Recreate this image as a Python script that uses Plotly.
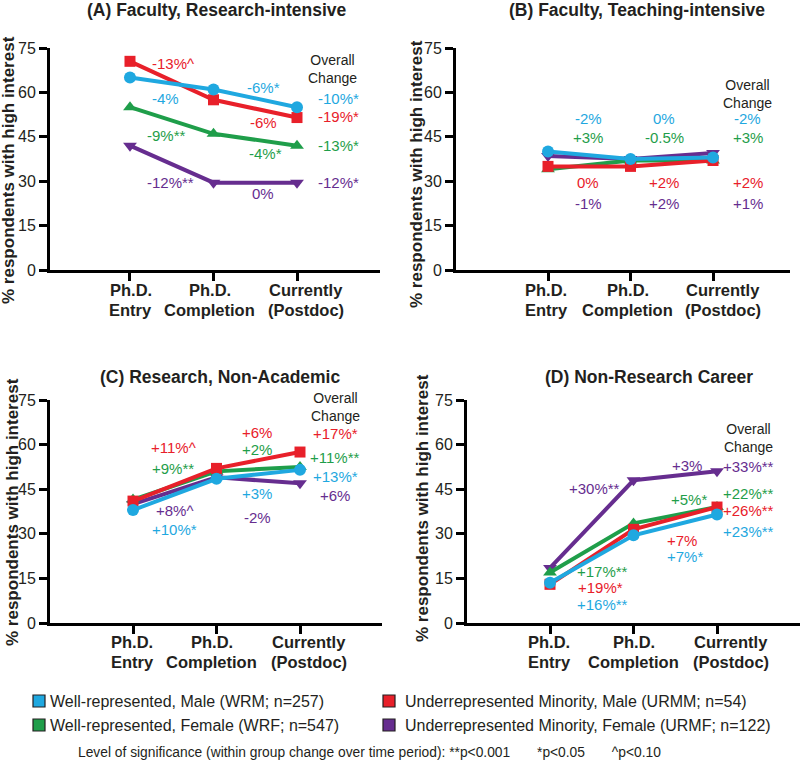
import plotly.graph_objects as go

W, H = 800, 760
FONT = "Liberation Sans, Arial, sans-serif"
INK = "#231f20"

stage_line1 = ["Ph.D.", "Ph.D.", "Currently"]
stage_line2 = ["Entry", "Completion", "(Postdoc)"]
groups = ["WRM", "URMM", "WRF", "URMF"]
group_labels = {
    "WRM": "Well-represented, Male (WRM; n=257)",
    "URMM": "Underrepresented Minority, Male (URMM; n=54)",
    "WRF": "Well-represented, Female (WRF; n=547)",
    "URMF": "Underrepresented Minority, Female (URMF; n=122)",
}
colors = {"WRM": "#1fa8e0", "URMM": "#e8202a", "WRF": "#1f9e4a", "URMF": "#662d8f"}
symbols = {"WRM": "circle", "URMM": "square", "WRF": "triangle-up", "URMF": "triangle-down"}
draw_order = ["URMF", "WRF", "URMM", "WRM"]

panel_titles = ["(A) Faculty, Research-intensive", "(B) Faculty, Teaching-intensive",
                "(C) Research, Non-Academic", "(D) Non-Research Career"]

# % respondents with high interest, per panel, per group (Entry, Completion, Postdoc)
A_WRM = [65, 61, 55]
A_URMM = [70.5, 57.5, 51.5]
A_WRF = [55, 46, 42]
A_URMF = [42, 29.5, 29.5]

B_WRM = [40, 37.5, 38]
B_URMM = [35, 35, 37]
B_WRF = [34, 37, 37]
B_URMF = [38.5, 37.5, 39.5]

C_WRM = [38, 48.5, 51.5]
C_URMM = [41, 52, 57.5]
C_WRF = [41.5, 51, 52.5]
C_URMF = [40, 49, 47]

D_WRM = [13.5, 29.5, 36.5]
D_URMM = [13, 31.5, 39]
D_WRF = [17, 33.5, 39]
D_URMF = [18.5, 48, 51]

panel_data = [
    {"WRM": A_WRM, "URMM": A_URMM, "WRF": A_WRF, "URMF": A_URMF},
    {"WRM": B_WRM, "URMM": B_URMM, "WRF": B_WRF, "URMF": B_URMF},
    {"WRM": C_WRM, "URMM": C_URMM, "WRF": C_WRF, "URMF": C_URMF},
    {"WRM": D_WRM, "URMM": D_URMM, "WRF": D_WRF, "URMF": D_URMF},
]

# change labels: (group, text, x in stage units, y in % units)
A_labels = [
    ("URMM", "-13%^", 0.52, 69.6), ("WRM", "-4%", 0.43, 57.8), ("WRF", "-9%**", 0.44, 45.3),
    ("URMF", "-12%**", 0.49, 29.4),
    ("WRM", "-6%*", 1.60, 61.5), ("URMM", "-6%", 1.60, 49.7), ("WRF", "-4%*", 1.62, 39.2),
    ("URMF", "0%", 1.59, 26.0),
    ("WRM", "-10%*", 2.50, 58.1), ("URMM", "-19%*", 2.50, 51.7), ("WRF", "-13%*", 2.50, 41.9),
    ("URMF", "-12%*", 2.50, 29.4),
]
B_labels = [
    ("WRM", "-2%", 0.485, 51.3), ("WRF", "+3%", 0.485, 44.6), ("URMM", "0%", 0.485, 29.7),
    ("URMF", "-1%", 0.485, 22.6),
    ("WRM", "0%", 1.41, 51.3), ("WRF", "-0.5%", 1.41, 44.6), ("URMM", "+2%", 1.41, 29.7),
    ("URMF", "+2%", 1.41, 22.6),
    ("WRM", "-2%", 2.42, 51.3), ("WRF", "+3%", 2.42, 44.6), ("URMM", "+2%", 2.42, 29.7),
    ("URMF", "+1%", 2.42, 22.6),
]
C_labels = [
    ("URMM", "+11%^", 0.48, 58.9), ("WRF", "+9%**", 0.48, 52.1), ("URMF", "+8%^", 0.50, 38.0),
    ("WRM", "+10%*", 0.50, 31.3),
    ("URMM", "+6%", 1.485, 64.2), ("WRF", "+2%", 1.485, 58.5), ("WRM", "+3%", 1.485, 43.4),
    ("URMF", "-2%", 1.485, 35.6),
    ("URMM", "+17%*", 2.42, 63.9), ("WRF", "+11%**", 2.42, 55.8), ("WRM", "+13%*", 2.42, 49.4),
    ("URMF", "+6%", 2.42, 43.0),
]
D_labels = [
    ("URMF", "+30%**", 0.53, 45.1), ("WRF", "+17%**", 0.63, 17.2), ("URMM", "+19%*", 0.60, 11.8),
    ("WRM", "+16%**", 0.63, 6.1),
    ("URMF", "+3%", 1.64, 53.1), ("WRF", "+5%*", 1.66, 41.7), ("URMM", "+7%", 1.58, 27.9),
    ("WRM", "+7%*", 1.62, 22.2),
    ("URMF", "+33%**", 2.38, 52.8), ("WRF", "+22%**", 2.38, 43.7), ("URMM", "+26%**", 2.38, 37.7),
    ("WRM", "+23%**", 2.38, 30.9),
]
panel_labels = [A_labels, B_labels, C_labels, D_labels]
overall_pos = [(2.43, 67.8), (2.42, 59.3), (2.42, 72.8), (2.38, 62.2)]

# layout geometry in pixels: (x_left, x_right, y_top(75), y_bottom(0), x range)
geom = [
    (50, 380, 48, 270, (-0.958, 2.994)),
    (456, 790, 48, 270, (-1.115, 2.933)),
    (50, 382, 400, 623, (-0.994, 2.982)),
    (467, 800, 400, 623, (-0.994, 2.994)),
]
title_pos = [(217, 10), (637, 10), (220, 377), (649, 377)]
ytitle_pos = [(8, 170), (417, 174), (12, 512), (422, 508)]
xlabel_rows = [(290, 310), (290, 310), (642, 662), (642, 662)]
xlabel_shift = [(1, -4, 9), (-2, -3, 10), (-1, -5, 9), (-1, 0, 14)]


def px(x):
    return x / W


def py(y):
    return 1 - y / H


fig = go.Figure()
annotations = []
shapes = []

for i in range(4):
    sfx = "" if i == 0 else str(i + 1)
    xa, ya = "x" + sfx, "y" + sfx
    for g in draw_order:
        fig.add_trace(go.Scatter(
            x=[0, 1, 2], y=panel_data[i][g], mode="lines+markers",
            line=dict(color=colors[g], width=4),
            marker=dict(symbol=symbols[g], size=12 if symbols[g] != "square" else 11,
                        color=colors[g], line=dict(width=0)),
            name=group_labels[g], showlegend=False, xaxis=xa, yaxis=ya,
            cliponaxis=False, hoverinfo="skip"))
    x0, x1, yt, yb, xr = geom[i]
    axis_common = dict(showgrid=False, zeroline=False, showline=True, linecolor="black",
                       linewidth=3, ticks="outside", tickwidth=2.5, ticklen=8,
                       tickcolor="black", automargin=False, tickangle=0, fixedrange=True)
    fig.layout["xaxis" + sfx] = dict(
        domain=[px(x0), px(x1)], range=list(xr), anchor=ya,
        tickmode="array", tickvals=[0, 1, 2], showticklabels=False, **axis_common)
    fig.layout["yaxis" + sfx] = dict(
        domain=[py(yb), py(yt)], range=[0, 75], anchor=xa,
        tickmode="array", tickvals=[0, 15, 30, 45, 60, 75],
        tickfont=dict(family=FONT, size=16, color=INK), **axis_common)

    # category labels (two bold lines under each tick)
    r1, r2 = xlabel_rows[i]
    for k in range(3):
        for txt, ry in ((stage_line1[k], r1), (stage_line2[k], r2)):
            annotations.append(dict(text="<b>" + txt + "</b>", x=k, y=py(ry),
                                    xref=xa, yref="paper", showarrow=False,
                                    xanchor="center", yanchor="middle",
                                    xshift=xlabel_shift[i][k],
                                    font=dict(family=FONT, size=16.5, color=INK)))

    tx, ty = title_pos[i]
    annotations.append(dict(text="<b>" + panel_titles[i] + "</b>", x=px(tx), y=py(ty),
                            xref="paper", yref="paper", showarrow=False,
                            xanchor="center", yanchor="middle",
                            font=dict(family=FONT, size=17.5, color=INK)))
    yx, yy = ytitle_pos[i]
    annotations.append(dict(text="<b>% respondents with high interest</b>", x=px(yx), y=py(yy),
                            xref="paper", yref="paper", showarrow=False, textangle=-90,
                            xanchor="center", yanchor="middle",
                            font=dict(family=FONT, size=17, color=INK)))
    ox, oy = overall_pos[i]
    annotations.append(dict(text="Overall<br>Change", x=ox, y=oy, xref=xa, yref=ya,
                            showarrow=False, xanchor="center", yanchor="middle",
                            font=dict(family=FONT, size=14, color=INK)))
    for g, t, lx, ly in panel_labels[i]:
        annotations.append(dict(text=t, x=lx, y=ly, xref=xa, yref=ya, showarrow=False,
                                xanchor="center", yanchor="middle",
                                font=dict(family=FONT, size=15, color=colors[g])))

# legend (drawn manually, two columns)
legend_slots = [("WRM", 33, 48, 701), ("URMM", 383, 403, 701),
                ("WRF", 33, 48, 725), ("URMF", 383, 403, 725)]
for g, bx, tx, cy in legend_slots:
    shapes.append(dict(type="rect", xref="paper", yref="paper",
                       x0=px(bx), x1=px(bx + 12), y0=py(cy + 6), y1=py(cy - 6),
                       fillcolor=colors[g], line=dict(color="#231f20", width=1.2)))
    annotations.append(dict(text=group_labels[g], x=px(tx), y=py(cy), xref="paper", yref="paper",
                            showarrow=False, xanchor="left", yanchor="middle",
                            font=dict(family=FONT, size=16, color=INK)))
gap = "\u00a0" * 7
sig_text = ("Level of significance (within group change over time period): "
            "**p<0.001" + gap + "*p<0.05" + gap + "^p<0.10")
annotations.append(dict(text=sig_text, x=px(76), y=py(752), xref="paper", yref="paper",
                        showarrow=False, xanchor="left", yanchor="middle",
                        font=dict(family=FONT, size=13.8, color=INK)))

fig.update_layout(width=W, height=H, margin=dict(l=0, r=0, t=0, b=0, pad=0),
                  paper_bgcolor="white", plot_bgcolor="white",
                  annotations=annotations, shapes=shapes, showlegend=False)
fig.write_html("out.html", config={"displayModeBar": False},
               post_script="document.body.style.margin='0px';")
